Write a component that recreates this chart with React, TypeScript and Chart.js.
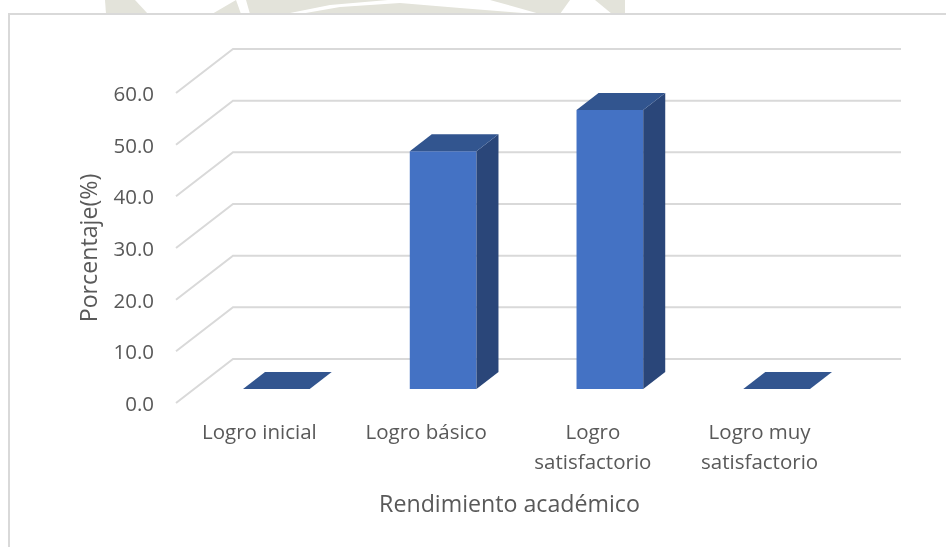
import React, { useEffect, useRef } from "react";
import { Chart, registerables } from "chart.js";

Chart.register(...registerables);

const categories = ["Logro inicial", "Logro básico", ["Logro", "satisfactorio"], ["Logro muy", "satisfactorio"]];
const porcentajes = [0, 46.0, 54.0, 0];
const yMax = 60;
const yStep = 10;

const TEXT = "#595959";
const GRID = "#d9d9d9";
const FRONT = "#4472C4";
const TOP = "#32558F";
const SIDE = "#2A4679";
const FONT = "'Open Sans', sans-serif";

// Oblique projection of the 3D plot box, in pixels
const WALL_DX = 57;
const WALL_DY = 44;
const BAR_SHIFT_X = 17;
const BAR_SHIFT_Y = 14;
const BAR_DX = 22;
const BAR_DY = 17;

const poly = (ctx: CanvasRenderingContext2D, pts: number[][], fill: string) => {
  ctx.beginPath();
  pts.forEach(([x, y], i) => (i ? ctx.lineTo(x, y) : ctx.moveTo(x, y)));
  ctx.closePath();
  ctx.fillStyle = fill;
  ctx.fill();
};

// Floor edge and back wall: each y tick runs up the side wall, then across the back
const wallGrid = {
  id: "wallGrid",
  beforeDatasetsDraw(chart: any) {
    const { ctx, chartArea, scales } = chart;
    ctx.save();
    ctx.strokeStyle = GRID;
    ctx.lineWidth = 2;
    for (const t of scales.y.ticks) {
      const y = scales.y.getPixelForValue(t.value);
      ctx.beginPath();
      ctx.moveTo(chartArea.left, y);
      ctx.lineTo(chartArea.left + WALL_DX, y - WALL_DY);
      ctx.lineTo(chartArea.right + WALL_DX + 1, y - WALL_DY);
      ctx.stroke();
    }
    ctx.restore();
  },
};

// Moves the flat bars onto the box floor, then adds their top and side faces
const bars3d = {
  id: "bars3d",
  beforeDatasetDraw(chart: any) {
    chart.ctx.save();
    chart.ctx.translate(BAR_SHIFT_X, -BAR_SHIFT_Y);
  },
  afterDatasetDraw(chart: any, args: any) {
    const { ctx } = chart;
    for (const el of chart.getDatasetMeta(args.index).data) {
      const { x, y, base, width } = el.getProps(["x", "y", "base", "width"], true);
      const l = x - width / 2;
      const r = x + width / 2;
      if (base - y > 0.5) {
        poly(ctx, [[r, y], [r + BAR_DX, y - BAR_DY], [r + BAR_DX, base - BAR_DY], [r, base]], SIDE);
      }
      poly(ctx, [[l, y], [l + BAR_DX, y - BAR_DY], [r + BAR_DX, y - BAR_DY], [r, y]], TOP);
    }
    ctx.restore();
  },
};

const App = () => {
  const ref = useRef<HTMLCanvasElement>(null);

  useEffect(() => {
    document.body.style.margin = "0";
    document.body.style.background = "#fff";
    const chart = new Chart(ref.current!, {
      type: "bar",
      data: {
        labels: categories as any,
        datasets: [
          {
            data: porcentajes,
            backgroundColor: FRONT,
            barPercentage: 0.4,
            categoryPercentage: 1,
          },
        ],
      },
      plugins: [wallGrid, bars3d],
      options: {
        animation: false,
        responsive: false,
        layout: { padding: { left: 72, right: 103, top: 93, bottom: 24 } },
        plugins: { legend: { display: false }, tooltip: { enabled: false } },
        scales: {
          x: {
            grid: { display: false, drawTicks: false },
            border: { display: false },
            ticks: {
              color: TEXT,
              font: { family: FONT, size: 20.5, lineHeight: 1.42 },
              padding: 16,
              maxRotation: 0,
              autoSkip: false,
            },
            title: {
              display: true,
              text: "Rendimiento académico",
              color: TEXT,
              font: { family: FONT, size: 23.2 },
            },
            afterFit: (s: any) => {
              s.height = 120;
            },
          },
          y: {
            min: 0,
            max: yMax,
            grid: { display: false, drawTicks: false },
            border: { display: false },
            ticks: {
              stepSize: yStep,
              color: TEXT,
              // A short empty first line drops each number to sit level with the grid end
              font: { family: FONT, size: 20.5, lineHeight: "4px" },
              padding: 22,
              callback: (v: any) => ["", Number(v).toFixed(1)],
            },
            title: {
              display: true,
              text: "Porcentaje(%)",
              color: TEXT,
              font: { family: FONT, size: 23.2 },
            },
            afterFit: (s: any) => {
              s.width = 104;
            },
          },
        },
      },
    });
    return () => chart.destroy();
  }, []);

  return (
    <div style={{ position: "relative", width: 946, height: 547, overflow: "hidden" }}>
      {/* Faint page watermark showing above the chart card */}
      <svg width={946} height={14} style={{ position: "absolute", left: 0, top: 0 }}>
        <g fill="#e3e3da">
          <polygon points="105,0 135,0 148,14 106,14" />
          <polygon points="212,14 236,0 241,14" />
          <polygon points="246,0 388,0 330,5 285,14 250,14" />
          <polygon points="300,14 340,7 400,3 460,8 510,12 535,14" />
          <polygon points="490,0 570,0 560,14 540,14" />
          <polygon points="595,0 625,0 625,14 612,14" />
        </g>
      </svg>
      <div
        style={{
          position: "absolute",
          left: 8,
          top: 13,
          width: 960,
          height: 560,
          background: "#fff",
          border: "2px solid #d9d9d9",
        }}
      />
      <canvas ref={ref} width={946} height={547} style={{ position: "absolute", left: 0, top: 0 }} />
    </div>
  );
};

export default App;
